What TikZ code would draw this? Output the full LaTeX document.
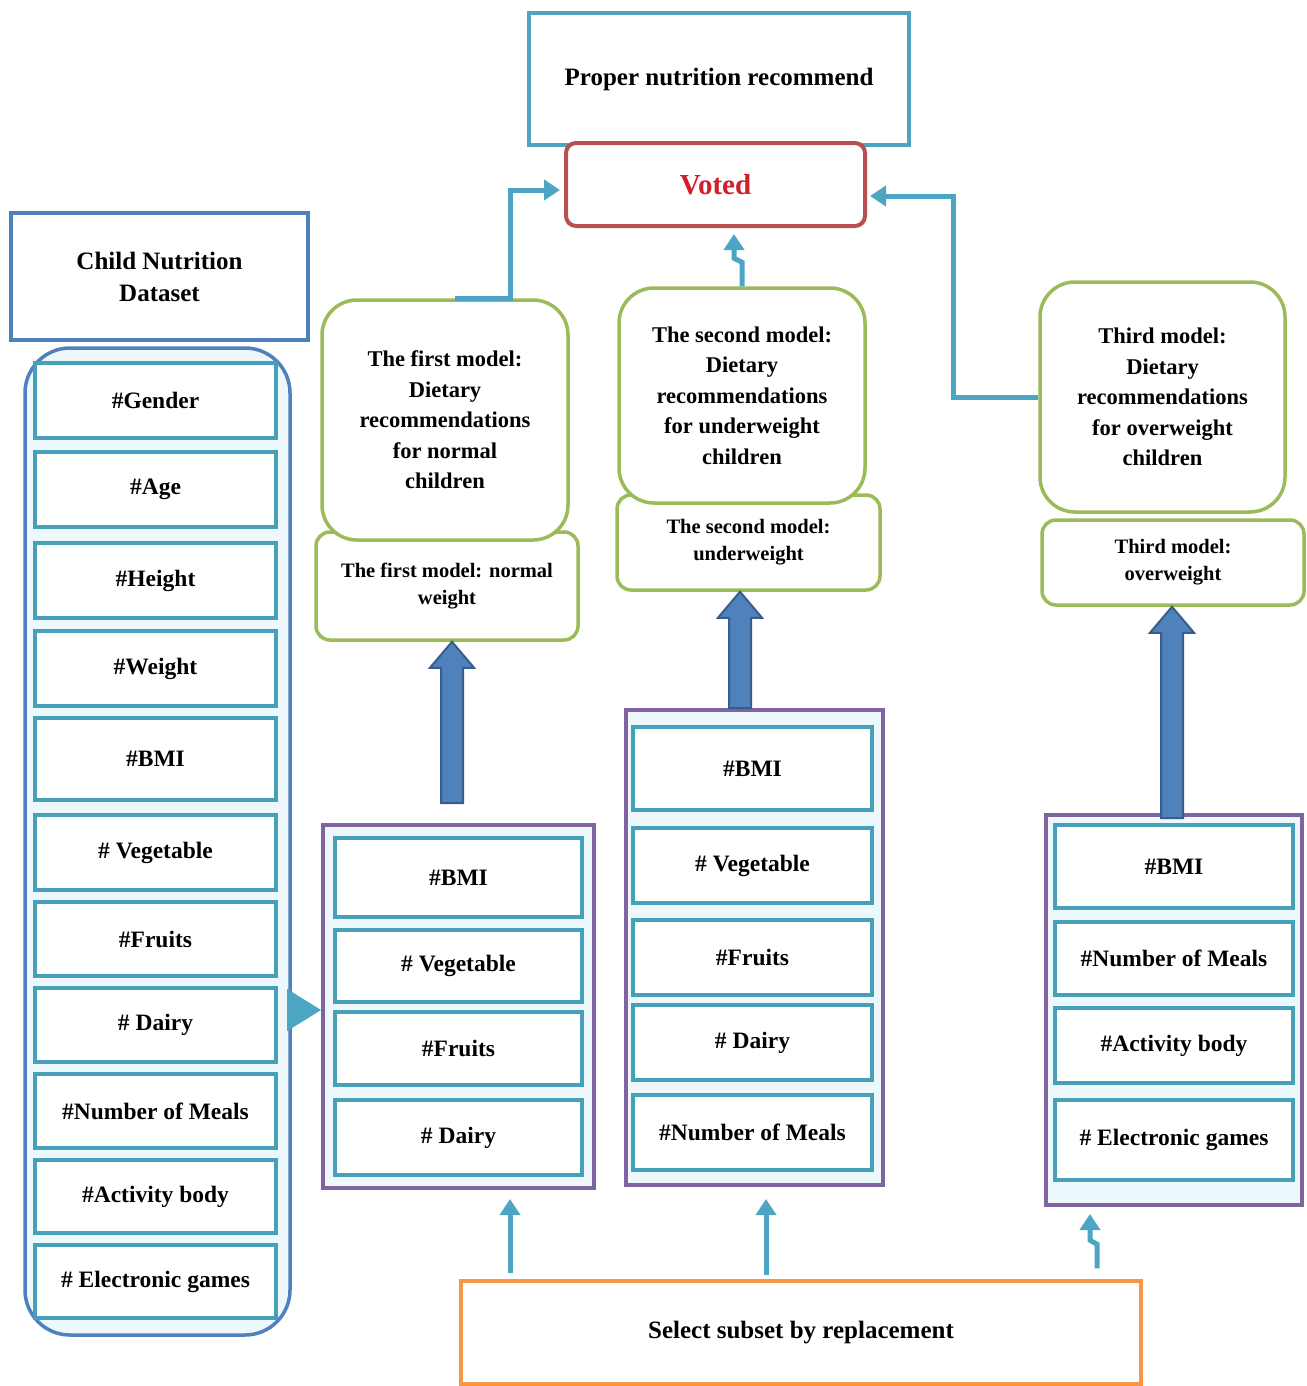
\documentclass[tikz,border=0pt]{standalone}
\usepackage{fontspec}
\setmainfont{Liberation Serif}
\usetikzlibrary{arrows.meta,calc}
\definecolor{tealc}{RGB}{75,165,195}
\definecolor{itemc}{RGB}{70,160,185}
\definecolor{bluec}{RGB}{79,129,189}
\definecolor{redc}{RGB}{185,80,80}
\definecolor{votedc}{RGB}{210,30,40}
\definecolor{greenc}{RGB}{155,187,89}
\definecolor{purplec}{RGB}{128,100,162}
\definecolor{orangec}{RGB}{247,150,70}
\definecolor{darkblue}{RGB}{56,93,138}
\definecolor{palecyan}{RGB}{236,248,251}
\newcommand\fatup[2]{\draw[fatarrow] ($(#1)+(-11,0)$) -- ($(#2)+(-11,26)$) -- ($(#2)+(-22,26)$) -- (#2) -- ($(#2)+(22,26)$) -- ($(#2)+(11,26)$) -- ($(#1)+(11,0)$) -- cycle;}
\begin{document}
\begin{tikzpicture}[x=1pt,y=-1pt,
  txt/.style={font=\fontsize{25}{32}\selectfont\bfseries, align=center},
  itembox/.style={draw=itemc, line width=4.5pt, fill=white, inner sep=0pt, font=\fontsize{23.5}{28}\selectfont\bfseries},
  bigmodel/.style={draw=greenc, line width=3.5pt, fill=white, rounded corners=35pt, font=\fontsize{22.5}{30.5}\selectfont\bfseries, align=center, inner sep=0pt},
  smallmodel/.style={draw=greenc, line width=3.5pt, fill=white, rounded corners=14pt, font=\fontsize{20.5}{27}\selectfont\bfseries, align=center, inner sep=0pt},
  subset/.style={draw=purplec, line width=4pt, fill=palecyan, inner sep=0pt},
  conn/.style={draw=tealc, line width=5pt, -{Triangle[width=20pt,length=16pt]}},
  fatarrow/.style={fill=bluec, draw=darkblue, line width=2pt, line join=miter},
]
\useasboundingbox[fill=white] (0,0) rectangle (1306,1386);

% top boxes
\node[draw=tealc, line width=4pt, fill=white, minimum width=380pt, minimum height=132pt, txt] (proper) at (719,79) {Proper nutrition recommend};
\node[draw=redc, line width=4pt, fill=white, rounded corners=10pt, minimum width=299pt, minimum height=83pt, font=\fontsize{29}{32}\selectfont\bfseries, text=votedc] (voted) at (715.5,184.5) {Voted};
\node[draw=bluec, line width=4pt, fill=white, minimum width=297pt, minimum height=127pt, txt] (child) at (159.5,276.5) {Child Nutrition\\Dataset};

% left container
\node[draw=bluec, line width=3.5pt, fill=palecyan, rounded corners=45pt, minimum width=265pt, minimum height=987pt] (leftc) at (157.5,841.5) {};
\node[itembox, minimum width=241pt, minimum height=75pt] (lg) at (155.5,400.5) {\#Gender};
\node[itembox, minimum width=241pt, minimum height=75pt] (la) at (155.5,489.5) {\#Age};
\node[itembox, minimum width=241pt, minimum height=75pt] (lh) at (155.5,580.5) {\#Height};
\node[itembox, minimum width=241pt, minimum height=75pt] (lw) at (155.5,668.5) {\#Weight};
\node[itembox, minimum width=241pt, minimum height=82pt] (lb) at (155.5,759) {\#BMI};
\node[itembox, minimum width=241pt, minimum height=75pt] (lv) at (155.5,852.5) {\# Vegetable};
\node[itembox, minimum width=241pt, minimum height=74pt] (lf) at (155.5,939) {\#Fruits};
\node[itembox, minimum width=241pt, minimum height=74pt] (ld) at (155.5,1025) {\# Dairy};
\node[itembox, minimum width=241pt, minimum height=74pt] (lm) at (155.5,1111) {\#Number of Meals};
\node[itembox, minimum width=241pt, minimum height=73pt] (lac) at (155.5,1196.5) {\#Activity body};
\node[itembox, minimum width=241pt, minimum height=73pt] (le) at (155.5,1281.5) {\# Electronic games};

% subset 1
\node[subset, minimum width=271pt, minimum height=363pt] (sub1) at (458.5,1006.5) {};
\node[itembox, minimum width=247pt, minimum height=79pt] (ab) at (458.5,877.5) {\#BMI};
\node[itembox, minimum width=247pt, minimum height=72pt] (av) at (458.5,966) {\# Vegetable};
\node[itembox, minimum width=247pt, minimum height=73pt] (af) at (458.5,1048.5) {\#Fruits};
\node[itembox, minimum width=247pt, minimum height=75pt] (ad) at (458.5,1137.5) {\# Dairy};

% subset 2
\node[subset, minimum width=257pt, minimum height=475pt] (sub2) at (754.5,947.5) {};
\node[itembox, minimum width=239pt, minimum height=83pt] (bb) at (752.5,768.5) {\#BMI};
\node[itembox, minimum width=239pt, minimum height=75pt] (bv) at (752.5,865.5) {\# Vegetable};
\node[itembox, minimum width=239pt, minimum height=75pt] (bf) at (752.5,957.5) {\#Fruits};
\node[itembox, minimum width=239pt, minimum height=75pt] (bd) at (752.5,1042.5) {\# Dairy};
\node[itembox, minimum width=239pt, minimum height=75pt] (bm) at (752.5,1132.5) {\#Number of Meals};

% subset 3
\node[subset, minimum width=256pt, minimum height=390pt] (sub3) at (1174,1010) {};
\node[itembox, minimum width=238pt, minimum height=83pt] (cb) at (1174,866.5) {\#BMI};
\node[itembox, minimum width=238pt, minimum height=73pt] (cm) at (1174,958.5) {\#Number of Meals};
\node[itembox, minimum width=238pt, minimum height=75pt] (ca) at (1174,1045.5) {\#Activity body};
\node[itembox, minimum width=238pt, minimum height=80pt] (ce) at (1174,1140) {\# Electronic games};

% models
\node[smallmodel, minimum width=262pt, minimum height=108pt] (s1) at (447,586) {The first model: normal\\weight};
\node[bigmodel, minimum width=246pt, minimum height=240pt] (m1) at (445,420) {The first model:\\Dietary\\recommendations\\for normal\\children};
\node[smallmodel, minimum width=263pt, minimum height=95pt] (s2) at (748.5,542.5) {The second model:\\underweight};
\node[bigmodel, minimum width=246pt, minimum height=215pt] (m2) at (742,395.5) {The second model:\\Dietary\\recommendations\\for underweight\\children};
\node[smallmodel, minimum width=262pt, minimum height=85pt] (s3) at (1173,562.5) {Third model:\\overweight};
\node[bigmodel, minimum width=245pt, minimum height=230pt] (m3) at (1162.5,397) {Third model:\\Dietary\\recommendations\\for overweight\\children};

% select subset
\node[draw=orangec, line width=3.5pt, fill=white, minimum width=680pt, minimum height=103pt, txt] (sel) at (801,1332.5) {Select subset by replacement};

% triangle from dataset to subset 1
\draw[draw=tealc, fill=tealc, line width=1pt, -{Triangle[width=42pt,length=34pt]}] ($(leftc.east)+(0,168.5)$) -- ($(sub1.west)+(0,3.5)$);

% thick arrows
\coordinate (fa1s) at ($(sub1.north)+(-6.5,-20)$);
\coordinate (fa1e) at ($(s1.south)+(5,0)$);
\coordinate (fa2s) at ($(sub2.north)+(-14.5,0)$);
\coordinate (fa2e) at ($(s2.south)+(-8.5,0)$);
\coordinate (fa3s) at ($(sub3.north)+(-2,5)$);
\coordinate (fa3e) at ($(s3.south)+(-1,0)$);
\fatup{fa1s}{fa1e}
\fatup{fa2s}{fa2e}
\fatup{fa3s}{fa3e}

% connectors to voted
\draw[conn] ($(m1.north)+(10,0)$) -- ($(m1.north)+(65,0)$) |- ($(voted.west)+(-4,5.5)$);
\draw[conn] (m2.north) -- ++(0,-24) -- ++(-8,-4) -- ($(voted.south -| m2.north)+(-8,6)$);
\draw[conn] (m3.west) -- ++(-85,0) |- ($(voted.east)+(3,11.5)$);

% connectors from select subset
\draw[conn] ($(sel.north)+(-291,-6)$) -- ($(sub1.south)+(51.5,9)$);
\draw[conn] ($(sel.north)+(-35,-4)$) -- ($(sub2.south)+(11.5,12)$);
\draw[conn] ($(sel.north)+(296,-11)$) -- ++(0,-24) -- ++(-7,-4) -- ($(sub3.south)+(-84,7)$);
\end{tikzpicture}
\end{document}
